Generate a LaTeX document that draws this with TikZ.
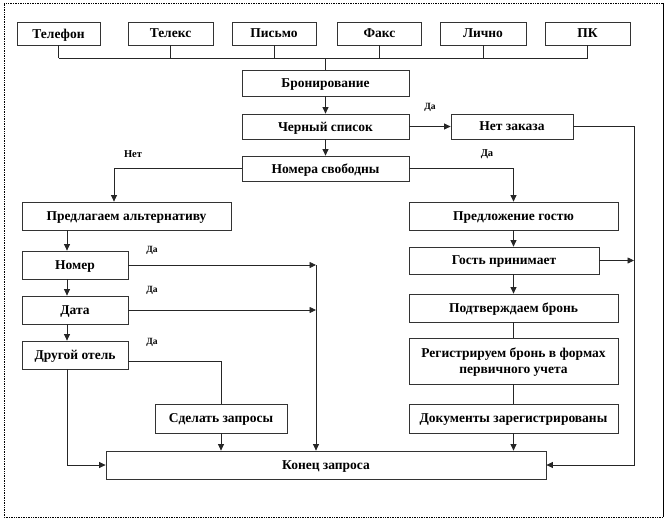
\documentclass[tikz,border=0pt]{standalone}
\usepackage{fontspec}
\setmainfont{Liberation Serif}
\usetikzlibrary{arrows.meta}

\begin{document}
\begin{tikzpicture}[x=1pt, y=-1pt,
    box/.style={draw=black!80, line width=0.8pt, rectangle, inner sep=0pt, text depth=0pt, font=\fontsize{13.5}{16}\selectfont\bfseries},
    line/.style={draw=black!85, line width=0.8pt},
    arr/.style={line, -{Triangle[length=6.5pt,width=6pt]}},
    lab/.style={font=\fontsize{9.5}{10}\selectfont\bfseries}]
                \useasboundingbox (0,0) rectangle (667,523);
                \draw [densely dotted, line width=0.7pt] (663,3) -- (4,3) -- (4,517) -- (663,517);
                \draw [line width=0.7pt] (663,3) -- (663,517);

                \node [box, minimum width=83, minimum height=23] (tel) at (58.5,33.5) {Телефон};
                \node [box, minimum width=85, minimum height=23] (telx) at (170.5,33.5) {Телекс};
                \node [box, minimum width=84, minimum height=23] (pis) at (274,33.5) {Письмо};
                \node [box, minimum width=84, minimum height=23] (fax) at (379.5,33.5) {Факс};
                \node [box, minimum width=86, minimum height=23] (lich) at (483,33.5) {Лично};
                \node [box, minimum width=85, minimum height=23] (pk) at (587.5,33.5) {ПК};

                \node [box, minimum width=167, minimum height=26] (bron) at (325.5,83) {Бронирование};
                \node [box, minimum width=167, minimum height=25] (chern) at (325.5,126.5) {Черный список};
                \node [box, minimum width=167, minimum height=25] (nomera) at (325.5,168.5) {Номера свободны};
                \node [box, minimum width=122, minimum height=25] (netz) at (512,126.5) {Нет заказа};

                \node [box, minimum width=209, minimum height=28] (predalt) at (126.5,216) {Предлагаем альтернативу};
                \node [box, minimum width=106, minimum height=28] (nomer) at (75,265) {Номер};
                \node [box, minimum width=106, minimum height=28] (data) at (75,310) {Дата};
                \node [box, minimum width=106, minimum height=28] (drug) at (75,355) {Другой отель};
                \node [box, minimum width=132, minimum height=29] (sdel) at (221,418.5) {Сделать запросы};

                \node [box, minimum width=209, minimum height=28] (predg) at (513.5,216) {Предложение гостю};
                \node [box, minimum width=190, minimum height=27] (gost) at (504,260.5) {Гость принимает};
                \node [box, minimum width=209, minimum height=28] (podt) at (513.5,308) {Подтверждаем бронь};
                \node [box, align=center, minimum width=209, minimum height=46] (reg) at (513.5,361) {Регистрируем бронь в формах\\первичного учета};
                \node [box, minimum width=209, minimum height=29] (dok) at (513.5,418.5) {Документы зарегистрированы};

                \node [box, minimum width=440, minimum height=28] (konec) at (326,465) {Конец запроса};

                \coordinate (bus) at (0,58);
                \coordinate (colL) at (67,0);
                \coordinate (colN) at (114,0);
                \coordinate (midx) at (316,0);
                \coordinate (rx) at (634,0);

                \foreach \n in {tel,telx,pis,fax,lich,pk}
                    \draw [line] (\n.south) -- (\n.south |- bus);
                \draw [line] (tel.south |- bus) -- (pk.south |- bus);
                \draw [line] (bron.north |- bus) -- (bron.north);

                \draw [arr] (bron) -- (chern);
                \draw [arr] (chern) -- (netz);
                \draw [arr] (chern) -- (nomera);
                \draw [arr] (netz.east) -| (rx |- konec.east) -- (konec.east);
                \draw [arr] (nomera.west) -| (colN |- predalt.north);
                \draw [arr] (nomera.east) -| (predg.north);

                \draw [arr] (colL |- predalt.south) -- (colL |- nomer.north);
                \draw [arr] (colL |- nomer.south) -- (colL |- data.north);
                \draw [arr] (colL |- data.south) -- (colL |- drug.north);
                \draw [arr] (colL |- drug.south) |- (konec.west);
                \draw [arr] (nomer.east) -- (midx |- nomer.east);
                \draw [arr] (data.east) -- (midx |- data.east);
                \draw [arr] (midx |- nomer.east) -- (midx |- konec.north);
                \draw [line] ([yshift=-6pt]drug.east) -| (sdel.north);
                \draw [arr] (sdel) -- (sdel.south |- konec.north);

                \draw [arr] (predg) -- (predg.south |- gost.north);
                \draw [arr] (gost.east) -- (rx |- gost.east);
                \draw [arr] (podt.north |- gost.south) -- (podt.north);
                \draw [line] (podt) -- (reg);
                \draw [line] (reg) -- (dok);
                \draw [arr] (dok) -- (dok.south |- konec.north);

                \node [lab] (da1) at (430,107) {Да};
                \node [lab, font=\fontsize{10.5}{11}\selectfont\bfseries] (net1) at (133,154) {Нет};
                \node [lab, font=\fontsize{10.5}{11}\selectfont\bfseries] (da2) at (487,154) {Да};
                \node [lab] (da3) at (152,250) {Да};
                \node [lab] (da4) at (152,290) {Да};
                \node [lab] (da5) at (152,342) {Да};
\end{tikzpicture}
\end{document}
